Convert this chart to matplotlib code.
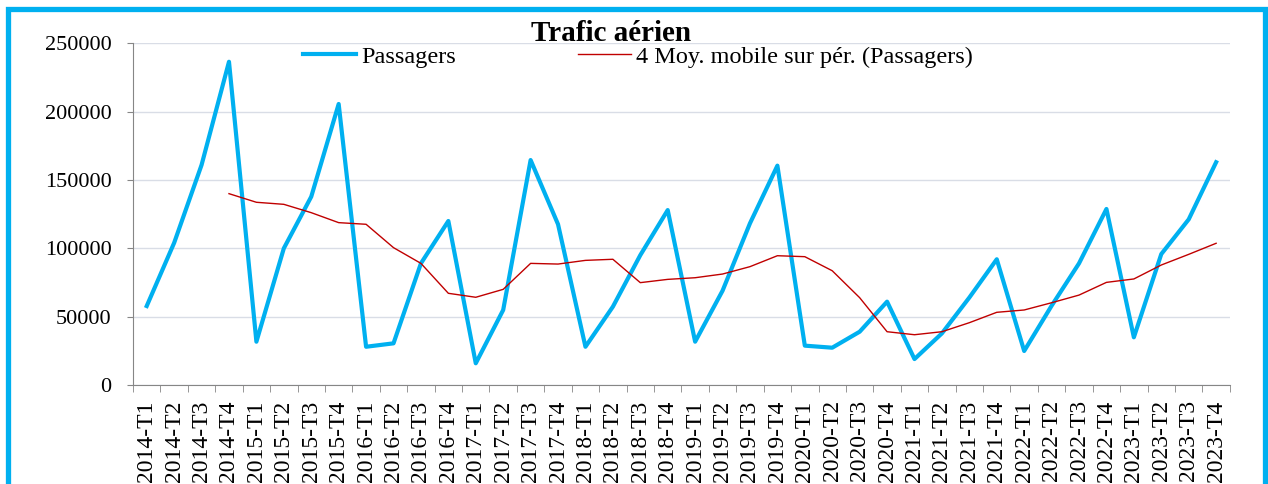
import numpy as np
import matplotlib.pyplot as plt
from matplotlib.patches import Rectangle

plt.rcParams['font.family'] = ['Liberation Serif', 'DejaVu Serif']

# quarters
years = range(2014, 2024)
quarters = [f"{y}-T{q}" for y in years for q in range(1, 5)]

# passengers per quarter
passagers = [57800, 104000, 161000, 236500,
             31700, 100000, 137800, 205600,
             28000, 30500, 89000, 120000,
             15900, 54900, 164600, 117600,
             28000, 57300, 95000, 128000,
             31700, 69000, 118300, 160500,
             28800, 27300, 39000, 61000,
             19000, 37800, 64000, 92000,
             24900, 58000, 89000, 128800,
             34900, 95800, 121200, 163000]

# 4 period moving average, starts at 2014-T4
moy_mobile = [np.nan, np.nan, np.nan, 140000,
              133700, 132200, 126100, 118800,
              117600, 100500, 89000, 67100,
              64200, 70000, 89000, 88500,
              91200, 92000, 74900, 77300,
              78500, 81200, 86600, 94600,
              93900, 83600, 63900, 39000,
              36800, 39000, 45600, 53200,
              54900, 60200, 65800, 75100,
              77600, 87800, 95600, 103700]

x = np.arange(len(quarters))

fig = plt.figure(figsize=(12.68, 4.84), dpi=100)
ax = fig.add_axes([0.1049, 0.2045, 0.865, 0.706])

ax.plot(x, passagers, color='#00B0F0', lw=3, label='Passagers', zorder=3)
ax.plot(x, moy_mobile, color='#C00000', lw=1, label='4 Moy. mobile sur pér. (Passagers)', zorder=4)

ax.set_xlim(-0.5, len(quarters) - 0.5)
ax.set_ylim(0, 250000)
ax.set_yticks(np.arange(0, 250001, 50000))
ax.set_yticklabels([str(v) for v in range(0, 250001, 50000)], fontsize=16)
ax.yaxis.grid(True, color='#D9DDE6', lw=1)
ax.set_axisbelow(True)

ax.set_xticks(x)
ax.set_xticklabels(quarters, rotation=90, fontsize=17)
ax.set_xticks(np.arange(-0.5, len(quarters)), minor=True)
ax.tick_params(axis='x', which='major', length=0, pad=11)
ax.tick_params(axis='x', which='minor', length=5, color='#868686')
ax.tick_params(axis='y', length=4.5, color='#868686', pad=11)

for s in ['top', 'right']:
    ax.spines[s].set_visible(False)
for s in ['left', 'bottom']:
    ax.spines[s].set_color('#868686')

fig.text(0.482, 0.916, 'Trafic aérien', fontsize=21, fontweight='bold',
         ha='center', va='baseline')

ax.legend(loc='center', bbox_to_anchor=(0.4607, 0.96), ncol=2, frameon=False,
          fontsize=17.5, handlelength=2.18, handletextpad=0.22, columnspacing=5.0,
          borderaxespad=0, borderpad=0)

# blue frame around the chart
fig.add_artist(Rectangle((0.0063, -0.2), 0.9913, 1.1824, transform=fig.transFigure,
                         fill=False, edgecolor='#00B0F0', lw=3.8))

fig.savefig('out.png', dpi=100)
